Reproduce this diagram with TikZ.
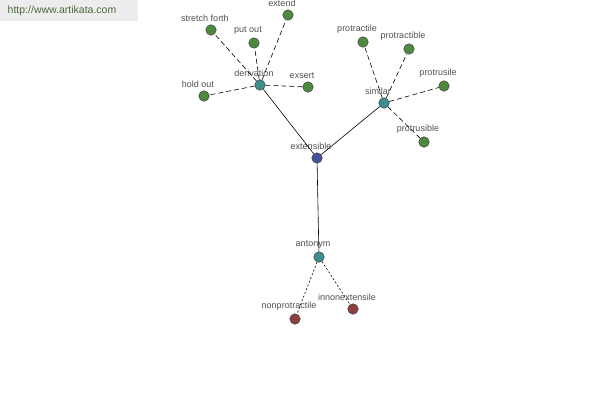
\documentclass[tikz,border=0pt]{standalone}
\usepackage{fontspec}
\setmainfont{Liberation Sans}
\usepackage{tikz}
\definecolor{wgreen}{HTML}{4E8A3E}
\definecolor{wteal}{HTML}{3E8E8E}
\definecolor{wnavy}{HTML}{44509A}
\definecolor{wred}{HTML}{8E3E3E}
\definecolor{wtext}{HTML}{505050}
\definecolor{wsite}{HTML}{4A6A3A}
\tikzset{
  word/.style={circle,draw=black!75,line width=0.5pt,minimum size=10.5pt,inner sep=0pt},
  lbl/.style={text=wtext,inner sep=0pt,xshift=-6pt},
  every label/.style={lbl},
  dashlink/.style={dash pattern=on 5pt off 3pt,line width=0.6pt},
  dotlink/.style={dash pattern=on 2pt off 2pt,line width=0.6pt},
}

\begin{document}
\begin{tikzpicture}[x=1pt,y=-1pt,font=\fontsize{9}{10}\selectfont,label distance=2.5pt]
\useasboundingbox (0,0) rectangle (600,400);
% site banner
\fill[black!7] (0,0) rectangle (138,21);
\node[text=wsite,font=\fontsize{10.5}{12}\selectfont] (site) at (62,11) {http://www.artikata.com};
% centre and branches
\node[word,fill=wnavy,label=above:extensible] (ext) at (317,158) {};
\node[word,fill=wteal,label=above:derivation] (der) at (260,85) {};
\node[word,fill=wteal,label=above:similar] (sim) at (384,103) {};
\node[word,fill=wteal,label=above:antonym] (ant) at (319,257) {};
% derivation
\node[word,fill=wgreen,label=above:stretch forth] (sf) at (211,30) {};
\node[word,fill=wgreen,label=above:put out] (po) at (254,43) {};
\node[word,fill=wgreen,label=above:extend] (ed) at (288,15) {};
\node[word,fill=wgreen,label=above:hold out] (ho) at (204,96) {};
\node[word,fill=wgreen,label=above:exsert] (ex) at (308,87) {};
% similar
\node[word,fill=wgreen,label=above:protractile] (ptl) at (363,42) {};
\node[word,fill=wgreen,label=above:protractible] (ptb) at (409,49) {};
\node[word,fill=wgreen,label=above:protrusile] (psl) at (444,86) {};
\node[word,fill=wgreen,label=above:protrusible] (psb) at (424,142) {};
% antonym
\node[word,fill=wred,label=above:nonprotractile] (npr) at (295,319) {};
\node[word,fill=wred,label=above:innonextensile] (inn) at (353,309) {};
% links
\draw[line width=0.6pt] (ext) -- (der);
\draw[line width=0.6pt] (ext) -- (sim);
\draw[line width=0.6pt] (ext) -- (ant);
\foreach \w in {sf,po,ed,ho,ex} \draw[dashlink] (der) -- (\w);
\foreach \w in {ptl,ptb,psl,psb} \draw[dashlink] (sim) -- (\w);
\foreach \w in {npr,inn} \draw[dotlink] (ant) -- (\w);
\end{tikzpicture}
\end{document}
